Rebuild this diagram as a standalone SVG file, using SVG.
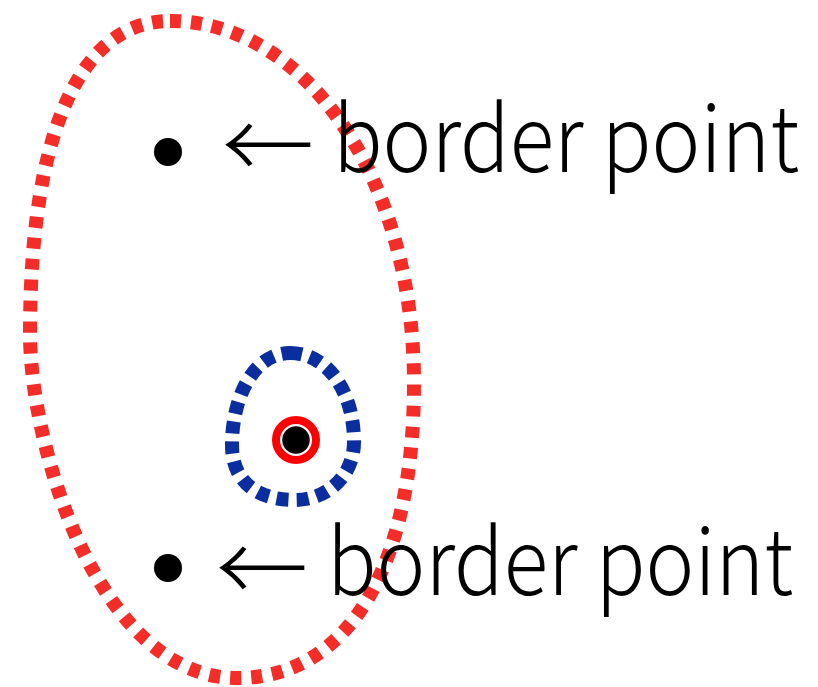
<svg xmlns="http://www.w3.org/2000/svg" width="818" height="687" viewBox="0 0 818 687">
<style>
.red{fill:none;stroke:#F42D29;stroke-width:14;stroke-dasharray:11 10}
.blue{fill:none;stroke:#0B2E9F;stroke-width:14;stroke-dasharray:12 8}
.dot{fill:#000}
.lbl{font-family:"Noto Sans CJK JP","Noto Sans",sans-serif;font-weight:300;font-size:92px;fill:#000}
</style>
<rect width="818" height="687" fill="#fff"/>
<g id="outer-cluster">
<path class="red" d="M170,21 C307,21 414,180 414,383 C414,568 348,678 237,678 C99,678 30,448 30,333 C30,133 80,21 170,21 Z"/>
</g>
<g id="inner-cluster">
<path class="blue" d="M290,353 C327,353 354,391 354,442 C354,475 328,500 295,500 C255,500 232,480 232,445 C232,397 254,353 290,353 Z"/>
</g>
<g id="core-point">
<circle cx="296" cy="440" r="20" fill="none" stroke="#FF0000" stroke-width="8"/>
<circle cx="296" cy="440" r="14.5" fill="#000" stroke="#fff" stroke-width="1.5"/>
</g>
<g id="border-top">
<circle class="dot" cx="168" cy="152" r="14"/>
<text class="lbl" x="222" y="180">←</text>
<text class="lbl" transform="translate(333,172) scale(0.9,1)" x="0" y="0" textLength="518" lengthAdjust="spacingAndGlyphs">border point</text>
</g>
<g id="border-bottom">
<circle class="dot" cx="168" cy="568" r="14"/>
<text class="lbl" x="216" y="603">←</text>
<text class="lbl" transform="translate(327,595) scale(0.9,1)" x="0" y="0" textLength="518" lengthAdjust="spacingAndGlyphs">border point</text>
</g>
<g id="connectors"></g>
</svg>
